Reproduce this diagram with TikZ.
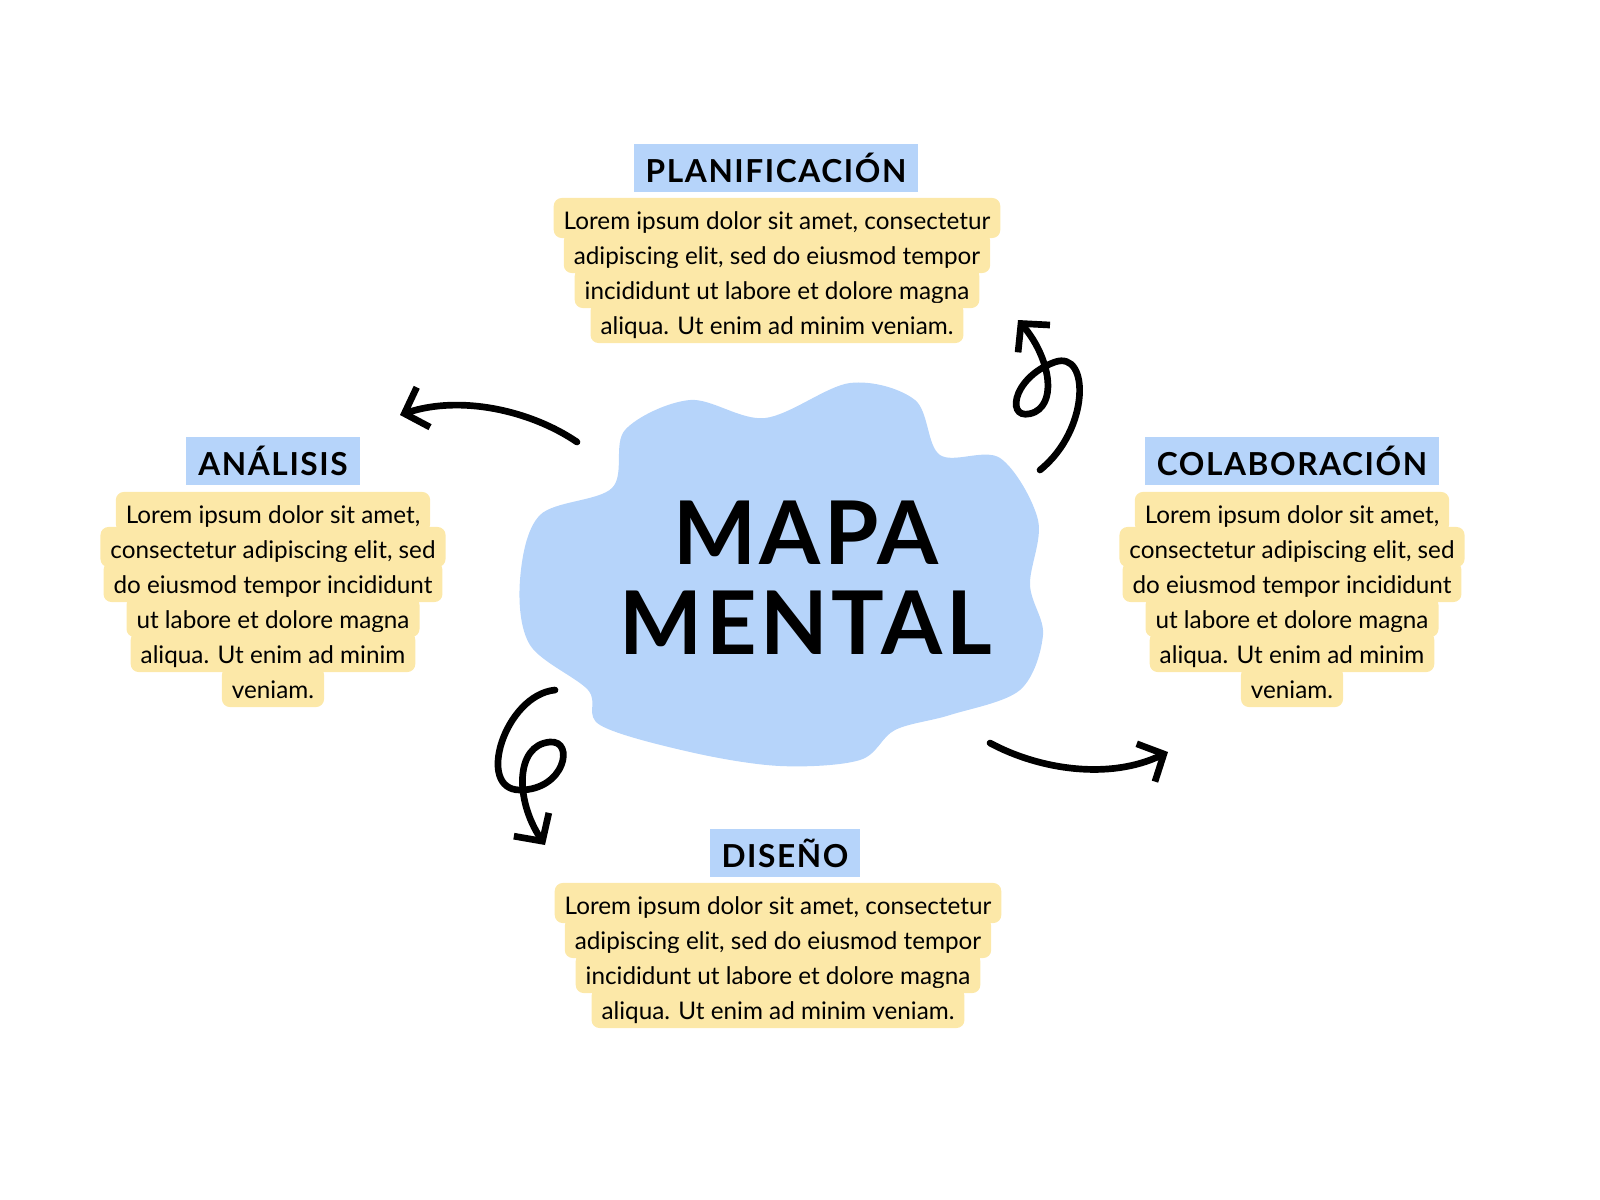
\documentclass[tikz,border=0pt]{standalone}
\usepackage{fontspec}
\setmainfont{Lato}
\usetikzlibrary{arrows.meta,positioning}
\definecolor{cloudblue}{HTML}{B6D4FA}
\definecolor{noteyellow}{HTML}{FCE8A8}
\tikzset{
  title/.style={fill=cloudblue, font=\fontsize{9}{11}\selectfont\bfseries\addfontfeature{LetterSpace=5}, inner xsep=0.12cm, inner ysep=0pt, minimum height=0.47cm},
  lorem/.style={fill=noteyellow, rounded corners=0.08cm, font=\fontsize{6.9}{8}\selectfont, inner xsep=0.1cm, inner ysep=0pt, text height=1.75ex, text depth=.5ex, minimum height=0.355cm},
  swirl/.style={line width=1.9pt, line cap=round, -{Straight Barb[length=0.2cm,width=0.42cm,line width=1.9pt]}},
  big/.style={font=\fontsize{25}{28}\selectfont\bfseries\addfontfeature{LetterSpace=4}},
}
% one block of note lines, one node per line
\newcommand\noteblock[4]{%
  \foreach \t [count=\i] in {#4}
    \node[lorem] (#1-\i) at (#2,{#3+35*(\i-1)}) {\t};%
}
\begin{document}
\begin{tikzpicture}[x=0.01cm,y=-0.01cm]
\useasboundingbox (0,0) rectangle (1600,1200);

% central cloud
\fill[cloudblue] plot[smooth cycle, tension=0.55] coordinates {
  (520,580) (540,515) (612,488) (625,430) (690,400) (765,418) (850,383)
  (915,400) (940,455) (1000,458) (1038,520) (1030,585) (1043,635)
  (1020,690) (950,715) (895,730) (860,760) (780,766) (690,752) (600,725)
  (588,690) (530,645)};
\node[big] (mapa) at (806,533) {MAPA};
\node[big] (mental) at (806,623) {MENTAL};

% titles
\node[title] (plan) at (776,168) {PLANIFICACIÓN};
\node[title] (anal) at (273,461) {ANÁLISIS};
\node[title] (colab) at (1292,461) {COLABORACIÓN};
\node[title] (dise) at (785,853) {DISEÑO};

% notes
\noteblock{planN}{777}{218}{{Lorem ipsum dolor sit amet, consectetur},{adipiscing elit, sed do eiusmod tempor},{incididunt ut labore et dolore magna},{aliqua. Ut enim ad minim veniam.}}
\noteblock{analN}{273}{512}{{Lorem ipsum dolor sit amet,},{consectetur adipiscing elit, sed},{do eiusmod tempor incididunt},{ut labore et dolore magna},{aliqua. Ut enim ad minim},{veniam.}}
\noteblock{colabN}{1292}{512}{{Lorem ipsum dolor sit amet,},{consectetur adipiscing elit, sed},{do eiusmod tempor incididunt},{ut labore et dolore magna},{aliqua. Ut enim ad minim},{veniam.}}
\noteblock{diseN}{778}{903}{{Lorem ipsum dolor sit amet, consectetur},{adipiscing elit, sed do eiusmod tempor},{incididunt ut labore et dolore magna},{aliqua. Ut enim ad minim veniam.}}

% arrow ends
\coordinate (a1) at (577,442);  \coordinate (b1) at (400,415);
\coordinate (a2) at (1040,470); \coordinate (b2) at (1018,320);
\coordinate (a3) at (555,690);  \coordinate (b3) at (545,845);
\coordinate (a4) at (990,743);  \coordinate (b4) at (1168,752);

\draw[swirl] (a1) .. controls (530,410) and (460,395) .. (b1);
\draw[swirl] (a2) .. controls (1090,430) and (1090,350) .. (1055,362)
  .. controls (1010,378) and (1005,425) .. (1035,412)
  .. controls (1058,400) and (1048,355) .. (b2);
\draw[swirl] (a3) .. controls (505,695) and (475,790) .. (520,790)
  .. controls (565,790) and (575,740) .. (550,742)
  .. controls (515,745) and (515,800) .. (b3);
\draw[swirl] (a4) .. controls (1040,770) and (1110,780) .. (b4);
\end{tikzpicture}
\end{document}
